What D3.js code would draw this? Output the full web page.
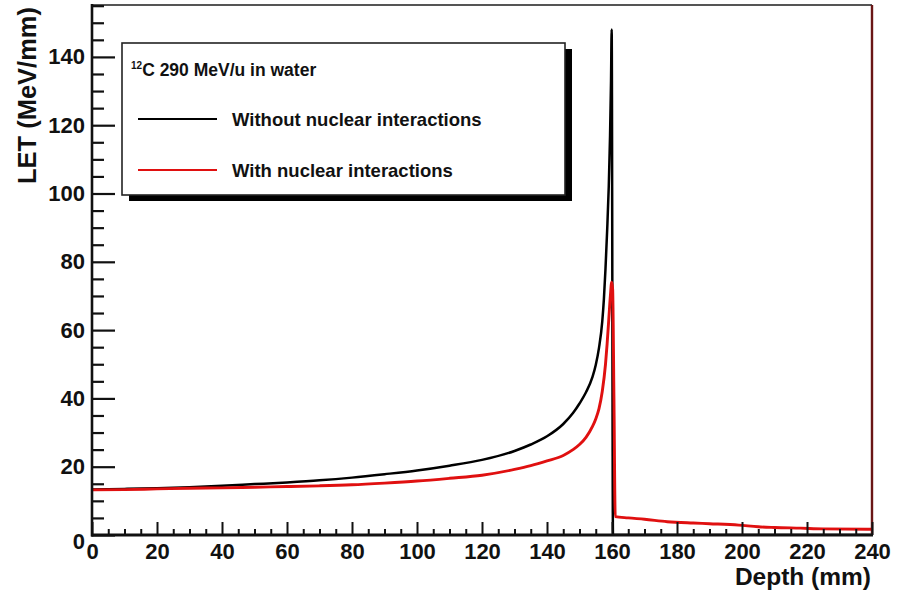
<!DOCTYPE html>
<html>
<head>
<meta charset="utf-8">
<script src="https://cdn.jsdelivr.net/npm/d3@7"></script>
<style>
  html, body { margin: 0; padding: 0; background: #fff; }
  svg { display: block; font-family: "Liberation Sans", Arial, Helvetica, sans-serif; font-weight: bold; }
</style>
</head>
<body>
<svg id="chart" width="906" height="596"></svg>
<script>
// LET along depth for a 290 MeV/u carbon beam in water
const depthNoNuc = [0, 10, 20, 30, 40, 50, 60, 70, 80, 90, 100, 110, 120, 130, 135, 140, 145, 148, 150, 152, 154, 155, 156, 157, 157.5, 158, 158.5, 159, 159.4, 159.7, 159.9, 160.3, 240.5];
const letNoNuc   = [13.3, 13.5, 13.7, 14.0, 14.4, 14.9, 15.4, 16.0, 16.8, 17.8, 18.9, 20.3, 22.0, 24.6, 26.5, 28.9, 32.5, 35.7, 38.5, 41.8, 46.3, 49.8, 54.8, 62.5, 69, 78, 89, 102, 117, 133, 148, 0, 0];

const depthNuc = [0, 10, 20, 30, 40, 50, 60, 70, 80, 90, 100, 110, 120, 130, 135, 140, 145, 148, 150, 152, 154, 155, 156, 157, 158, 158.5, 159, 159.5, 159.9, 160.2, 160.6, 161, 165, 170, 177, 185, 190, 199, 205, 210, 218, 225, 238.5, 240, 240.5];
const letNuc   = [13.2, 13.3, 13.5, 13.7, 13.8, 14.0, 14.2, 14.4, 14.7, 15.2, 15.8, 16.6, 17.5, 19.2, 20.3, 21.7, 23.3, 25.0, 26.5, 28.6, 31.8, 34, 37, 42, 50, 56, 63, 70, 74, 72, 40, 5.4, 5.0, 4.6, 3.9, 3.5, 3.3, 2.9, 2.4, 2.2, 2.0, 1.8, 1.7, 1.7, 0];

const xMajorTicks = [0, 20, 40, 60, 80, 100, 120, 140, 160, 180, 200, 220, 240];
const yMajorTicks = [0, 20, 40, 60, 80, 100, 120, 140];
const legendLabels = ["Without nuclear interactions", "With nuclear interactions"];
const seriesColors = ["#000000", "#e01010"];

const svg = d3.select("#chart");
const L = 92, R = 872, T = 5, B = 535;

const x = d3.scaleLinear().domain([0, 240]).range([L, R]);
const y = d3.scaleLinear().domain([0, 155.2]).range([B, T]);

const xMinor = d3.range(0, 241, 5).filter(v => v % 20 !== 0);
const yMinor = d3.range(0, 156, 5).filter(v => v % 20 !== 0);

// curves, clipped to the frame
svg.append("clipPath").attr("id", "plotclip")
  .append("rect").attr("x", L).attr("y", T).attr("width", R - L).attr("height", B - T);

const line = d3.line().x(d => x(d[0])).y(d => y(d[1])).curve(d3.curveMonotoneX);
const g = svg.append("g").attr("clip-path", "url(#plotclip)");
g.append("path")
  .datum(depthNoNuc.map((d, i) => [d, letNoNuc[i]]))
  .attr("d", line).attr("fill", "none")
  .attr("stroke", seriesColors[0]).attr("stroke-width", 2.5).attr("stroke-linejoin", "round");
g.append("path")
  .datum(depthNuc.map((d, i) => [d, letNuc[i]]))
  .attr("d", line).attr("fill", "none")
  .attr("stroke", seriesColors[1]).attr("stroke-width", 2.9).attr("stroke-linejoin", "round");

// frame
svg.append("line").attr("x1", L).attr("x2", R).attr("y1", T).attr("y2", T)
  .attr("stroke", "#555").attr("stroke-width", 2);
svg.append("line").attr("x1", R).attr("x2", R).attr("y1", T).attr("y2", B)
  .attr("stroke", "#6a1616").attr("stroke-width", 2.4);

// y axis: inward major and minor ticks
const yAxisMinor = d3.axisLeft(y).tickValues(yMinor).tickSize(-12).tickFormat("");
const yAxisMajor = d3.axisLeft(y).tickValues(yMajorTicks).tickSize(-23).tickPadding(7);
svg.append("g").attr("transform", `translate(${L},0)`).call(yAxisMinor)
  .call(a => a.select(".domain").remove())
  .selectAll("line").attr("stroke", "#111").attr("stroke-width", 2.2);
const ya = svg.append("g").attr("transform", `translate(${L},0)`).call(yAxisMajor);
ya.select(".domain").remove();
ya.selectAll("line").attr("stroke", "#111").attr("stroke-width", 2.2);
ya.selectAll("text").attr("font-size", 22).attr("font-family", "Liberation Sans, Arial, sans-serif")
  .attr("font-weight", "bold").attr("fill", "#111");
ya.selectAll(".tick").filter(d => d === 0).select("text").attr("dy", "0.6em");

// x axis: inward major and minor ticks
const xAxisMinor = d3.axisBottom(x).tickValues(xMinor).tickSize(-6).tickFormat("");
const xAxisMajor = d3.axisBottom(x).tickValues(xMajorTicks).tickSize(-13).tickPadding(8);
svg.append("g").attr("transform", `translate(0,${B})`).call(xAxisMinor)
  .call(a => a.select(".domain").remove())
  .selectAll("line").attr("stroke", "#111").attr("stroke-width", 2);
const xa = svg.append("g").attr("transform", `translate(0,${B})`).call(xAxisMajor);
xa.select(".domain").remove();
xa.selectAll("line").attr("stroke", "#111").attr("stroke-width", 2);
xa.selectAll("text").attr("font-size", 22).attr("font-family", "Liberation Sans, Arial, sans-serif")
  .attr("font-weight", "bold").attr("fill", "#111");

// axis lines
svg.append("line").attr("x1", L).attr("x2", L).attr("y1", T - 1).attr("y2", B + 1.5)
  .attr("stroke", "#111").attr("stroke-width", 2.6);
svg.append("line").attr("x1", L - 1).attr("x2", R + 1).attr("y1", B).attr("y2", B)
  .attr("stroke", "#111").attr("stroke-width", 3);

// axis titles
svg.append("text")
  .attr("transform", `translate(36,${T + 2}) rotate(-90)`)
  .attr("text-anchor", "end").attr("font-size", 25.5).attr("fill", "#111")
  .text("LET (MeV/mm)");
svg.append("text")
  .attr("x", R - 1).attr("y", 585)
  .attr("text-anchor", "end").attr("font-size", 24.5).attr("fill", "#111")
  .text("Depth (mm)");

// legend box with drop shadow
const lg = { x: 122, y: 43, w: 443, h: 152 };
svg.append("rect").attr("x", lg.x + 7).attr("y", lg.y + 6).attr("width", lg.w).attr("height", lg.h)
  .attr("fill", "#000");
svg.append("rect").attr("x", lg.x).attr("y", lg.y).attr("width", lg.w).attr("height", lg.h)
  .attr("fill", "#fff").attr("stroke", "#222").attr("stroke-width", 1.6);

const title = svg.append("text").attr("x", 131).attr("y", 76).attr("fill", "#111");
title.append("tspan").attr("font-size", 10).attr("dy", -7).text("12");
title.append("tspan").attr("font-size", 17.5).attr("dy", 7).text("C 290 MeV/u in water");

legendLabels.forEach((lab, i) => {
  const yy = 119 + i * 51;
  svg.append("line").attr("x1", 138).attr("x2", 217).attr("y1", yy).attr("y2", yy)
    .attr("stroke", seriesColors[i]).attr("stroke-width", 2);
  svg.append("text").attr("x", 232).attr("y", yy + 7).attr("font-size", 18.5).attr("fill", "#111")
    .text(lab);
});
</script>
</body>
</html>
